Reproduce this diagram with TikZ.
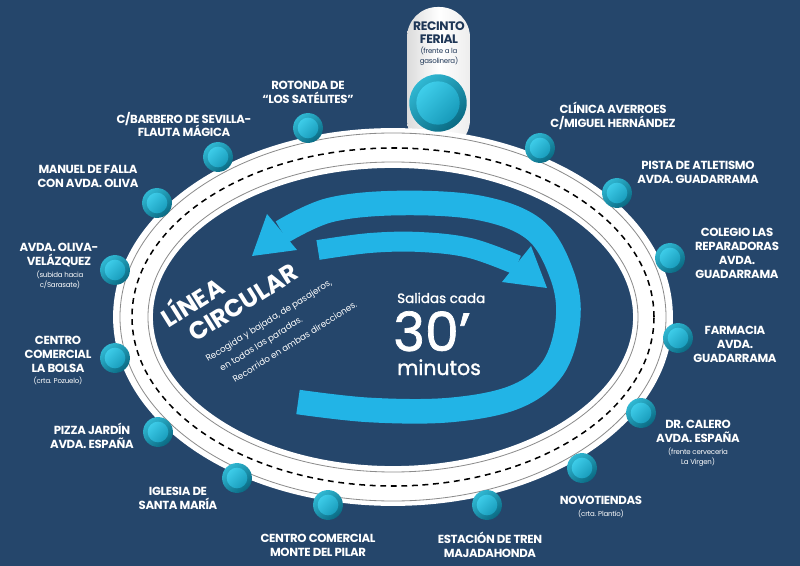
\documentclass[tikz,border=0pt]{standalone}
\usepackage{fontspec}
\setmainfont{Poppins}
\newfontfamily\labfont{Poppins}[LetterSpace=-3]
\newfontfamily\semifont{Poppins}[FakeBold=1.3]
\definecolor{bg}{HTML}{25466B}
\definecolor{cy}{HTML}{22B4E6}
\definecolor{ringA}{HTML}{0A6A83}
\definecolor{ringB}{HTML}{30B8D3}
\definecolor{dotA}{HTML}{45D6F2}
\definecolor{dotB}{HTML}{1192B2}
\definecolor{navytxt}{HTML}{1E3656}
\begin{document}
\begin{tikzpicture}[x=0.03cm,y=-0.03cm,
  stop/.style={circle, minimum size=25.5pt, inner sep=0pt, top color=ringB, bottom color=ringA, shading angle=40,
    path picture={\shade[top color=dotA, bottom color=dotB, shading angle=45] (path picture bounding box.center) circle (8.8pt);}},
  bigstop/.style={circle, minimum size=49pt, inner sep=0pt, top color=ringB, bottom color=ringA, shading angle=40,
    path picture={\shade[top color=dotA, bottom color=dotB, shading angle=45] (path picture bounding box.center) circle (18.5pt);}},
  lab/.style={text=white, align=center, inner sep=0pt, font=\labfont\bfseries\fontsize{10}{11.9}\selectfont},
  note/.style={text=white, align=center, inner sep=0pt, font=\labfont\fontsize{6}{8.5}\selectfont},
  title/.style={text=white, inner sep=0pt, anchor=base west, rotate=32, font=\bfseries\fontsize{21}{22}\selectfont},
  body/.style={text=white, inner sep=0pt, anchor=base west, rotate=32, font=\fontsize{7.5}{9}\selectfont},
  band/.style={cy, line width=#1}
]
\useasboundingbox (0,0) rectangle (800,566);
\fill[bg] (0,0) rectangle (800,566);

% pill of the main stop
\path[left color=black!14, right color=black!7, middle color=white, rounded corners=26pt] (407,150) rectangle (470,7);

% road
\draw[white, line width=34pt] (393,317) ellipse [x radius=7.8cm, y radius=5.07cm];
\draw[black!45, line width=0.7pt] (393,317) ellipse [x radius=8.19cm, y radius=5.52cm];
\draw[black!45, line width=0.7pt] (393,317) ellipse [x radius=7.35cm, y radius=4.65cm];
\draw[black, line width=1.3pt, dash pattern=on 5pt off 4pt] (393,317) ellipse [x radius=7.83cm, y radius=5.07cm];

% arrows
\draw[band=21pt] plot[smooth, tension=0.6] coordinates {(282,232) (330,210) (400,203) (480,208) (535,230) (562,275) (568,320) (553,368) (515,397) (450,410) (370,410) (298,402)};
\fill[cy] (252,256) -- (267,214) -- (297,250) -- cycle;
\draw[band=17pt] plot[smooth, tension=0.6] coordinates {(318,250) (370,243) (420,242) (470,248) (517,265)};
\fill[cy] (547,288) -- (531,246) -- (502,282) -- cycle;

% central texts
\node[title] (t1) at (168,329) {LÍNEA};
\node[title] (t2) at (195,343) {CIRCULAR};
\node[body] (b1) at (208,362) {Recogida y bajada, de pasajeros,};
\node[body] (b2) at (222,372) {en todas las paradas.};
\node[body] (b3) at (235,383) {Recorrido en ambas direcciones.};
\node[text=white, inner sep=0pt, anchor=base west, font=\semifont\fontsize{11.5}{13}\selectfont] (c1) at (397,303) {Salidas cada};
\node[text=white, inner sep=0pt, anchor=base west, font=\semifont\fontsize{46}{48}\selectfont] (c2) at (393,351) {30’};
\node[text=white, inner sep=0pt, anchor=base west, font=\semifont\fontsize{17.5}{19}\selectfont] (c3) at (397,375) {minutos};

% stops
\node[bigstop] (s0) at (438,103) {};
\node[stop] (s1) at (308,128) {};
\node[stop] (s2) at (218,157) {};
\node[stop] (s3) at (157,203) {};
\node[stop] (s4) at (115,270) {};
\node[stop] (s5) at (115,358) {};
\node[stop] (s6) at (158,432) {};
\node[stop] (s7) at (237,478) {};
\node[stop] (s8) at (328,505) {};
\node[stop] (s9) at (487,505) {};
\node[stop] (s10) at (582,468) {};
\node[stop] (s11) at (641,413) {};
\node[stop] (s12) at (678,338) {};
\node[stop] (s13) at (670,258) {};
\node[stop] (s14) at (617,193) {};
\node[stop] (s15) at (540,148) {};

% labels
\node[lab, text=navytxt, font=\labfont\bfseries\fontsize{10.5}{11.5}\selectfont] (l0) at (439,32.5) {RECINTO\\FERIAL};
\node[note, text=navytxt] (n0) at (439,56) {(frente a la\\gasolinera)};
\node[lab] (l1) at (308,92) {ROTONDA DE\\“LOS SATÉLITES”};
\node[lab] (l2) at (184,124.5) {C/BARBERO DE SEVILLA-\\FLAUTA MÁGICA};
\node[lab] (l3) at (88,176.5) {MANUEL DE FALLA\\CON AVDA. OLIVA};
\node[lab] (l4) at (59,255) {AVDA. OLIVA-\\VELÁZQUEZ};
\node[note] (n4) at (60,279.5) {(subida hacia\\c/Sarasate)};
\node[lab] (l5) at (58,354) {CENTRO\\COMERCIAL\\LA BOLSA};
\node[note] (n5) at (58,380.5) {(crta. Pozuelo)};
\node[lab] (l6) at (92,435.5) {PIZZA JARDÍN\\AVDA. ESPAÑA};
\node[lab] (l7) at (178,498) {IGLESIA DE\\SANTA MARÍA};
\node[lab] (l8) at (318,545) {CENTRO COMERCIAL\\MONTE DEL PILAR};
\node[lab] (l9) at (490,544.5) {ESTACIÓN DE TREN\\MAJADAHONDA};
\node[lab] (l10) at (601,500) {NOVOTIENDAS};
\node[note] (n10) at (601,513.5) {(crta. Plantío)};
\node[lab] (l11) at (698,431.5) {DR. CALERO\\AVDA. ESPAÑA};
\node[note] (n11) at (698,457.5) {(frente cervecería\\La Virgen)};
\node[lab] (l12) at (735,344) {FARMACIA\\AVDA.\\GUADARRAMA};
\node[lab] (l13) at (737,253) {COLEGIO LAS\\REPARADORAS\\AVDA.\\GUADARRAMA};
\node[lab] (l14) at (698,172) {PISTA DE ATLETISMO\\AVDA. GUADARRAMA};
\node[lab] (l15) at (613,116) {CLÍNICA AVERROES\\C/MIGUEL HERNÁNDEZ};
\end{tikzpicture}
\end{document}
